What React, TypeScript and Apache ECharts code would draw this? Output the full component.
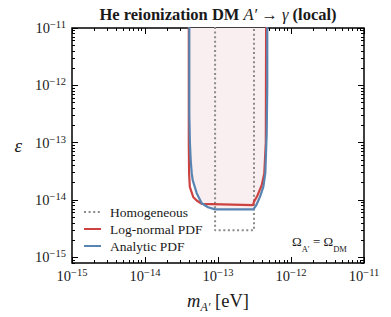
import React, { useEffect, useRef } from 'react';
import * as echarts from 'echarts';

// axis ranges in log10 units
const X_MIN = -15;
const X_MAX = -11;
const Y_MIN = -15.1;
const Y_MAX = -11;
const xDecades = [-15, -14, -13, -12, -11];
const yDecades = [-15, -14, -13, -12, -11];

// curves: log10(m_A' / eV) and log10(epsilon)
const homLogM = [-13.04, -13.04, -12.507, -12.507];
const homLogEps = [-10.5, -14.53, -14.53, -10.5];

const lnLogM = [-13.4, -13.4, -13.396, -13.386, -13.34, -13.292, -13.223, -12.52, -12.507, -12.462, -12.401, -12.366, -12.345, -12.34];
const lnLogEps = [-10.5, -13.0, -13.533, -13.772, -13.947, -14.01, -14.07, -14.09, -14.03, -13.93, -13.742, -13.538, -13.0, -10.5];

const anLogM = [-13.393, -13.393, -13.385, -13.374, -13.36, -13.347, -13.292, -13.223, -13.137, -13.041, -12.516, -12.479, -12.425, -12.379, -12.352, -12.333, -12.325, -12.325];
const anLogEps = [-10.5, -12.5, -13.0, -13.306, -13.533, -13.655, -13.882, -14.057, -14.127, -14.165, -14.165, -14.1, -13.947, -13.772, -13.533, -12.834, -12.0, -10.5];

const seriesNames = ['Homogeneous', 'Log-normal PDF', 'Analytic PDF'];

const FONT = 'Liberation Serif, DejaVu Serif, serif';
const RED = '#cd4240';
const BLUE = '#5884b2';
const GRAY = '#8a8a8a';
const FILL = '#f9eff0';
const INK = '#1a1a1a';

const zip = (a: number[], b: number[]) => a.map((v, i) => [v, b[i]]);

const minorOf = (decades: number[], lo: number, hi: number) => {
  const out: number[] = [];
  decades.forEach((d) => {
    for (let k = 2; k <= 9; k++) {
      const v = d + Math.log10(k);
      if (v > lo && v < hi) out.push(v);
    }
  });
  return out;
};

const powLabel = (v: number) => `{b|10}{s|−${Math.round(-v)}}`;
const powRich = {
  b: { fontFamily: FONT, fontSize: 14.5, lineHeight: 18, color: INK, verticalAlign: 'middle' },
  s: { fontFamily: FONT, fontSize: 10.5, lineHeight: 10, color: INK, verticalAlign: 'top' },
};

export default function App() {
  const ref = useRef<HTMLDivElement>(null);
  useEffect(() => {
    if (!ref.current) return;
    const chart = echarts.init(ref.current, undefined, { renderer: 'svg' });
    const xMinor = minorOf([-15, -14, -13, -12], X_MIN, X_MAX);
    const yMinor = minorOf([-16, -15, -14, -13, -12], Y_MIN, Y_MAX);
    const anPts = zip(anLogM, anLogEps);

    const tickAx = (min: number, max: number, values: number[], len: number, position: string, gridIndex: number, labels?: any) => ({
      type: 'value',
      min,
      max,
      gridIndex,
      position,
      axisLine: { show: false },
      splitLine: { show: false },
      axisTick: { show: true, inside: true, length: len, customValues: values, lineStyle: { color: '#000', width: 1 } },
      axisLabel: labels ? labels : { show: false },
    });

    chart.setOption({
      animation: false,
      backgroundColor: '#fff',
      grid: [
        { left: 72, right: 27, top: 28, bottom: 54, show: true, borderColor: '#000', borderWidth: 1.5, backgroundColor: 'transparent', containLabel: false, outerBoundsMode: 'none' },
        { left: 72, right: 27, top: 28, bottom: 54, show: false, containLabel: false, outerBoundsMode: 'none' },
      ],
      xAxis: [
        {
          ...tickAx(X_MIN, X_MAX, xDecades, 6, 'bottom', 0, {
            show: true,
            customValues: xDecades,
            margin: 4,
            formatter: powLabel,
            rich: powRich,
          }),
          name: '{i|m}{sub|A′}{r| [eV]}',
          nameLocation: 'middle',
          nameGap: 28,
          nameTextStyle: {
            rich: {
              i: { fontFamily: FONT, fontStyle: 'italic', fontSize: 18.5, lineHeight: 22, color: INK, verticalAlign: 'top' },
              sub: { fontFamily: FONT, fontStyle: 'italic', fontSize: 12, lineHeight: 10, color: INK, verticalAlign: 'bottom' },
              r: { fontFamily: FONT, fontSize: 18.5, lineHeight: 22, color: INK, verticalAlign: 'top' },
            },
          },
        },
        tickAx(X_MIN, X_MAX, xDecades, 6, 'top', 0),
        tickAx(X_MIN, X_MAX, xMinor, 3, 'bottom', 1),
        tickAx(X_MIN, X_MAX, xMinor, 3, 'top', 1),
      ],
      yAxis: [
        {
          ...tickAx(Y_MIN, Y_MAX, yDecades, 6, 'left', 0, {
            show: true,
            customValues: yDecades,
            margin: 6,
            formatter: powLabel,
            rich: powRich,
          }),
          name: 'ε',
          nameLocation: 'middle',
          nameGap: 50,
          nameRotate: 0,
          nameTextStyle: { fontFamily: FONT, fontStyle: 'italic', fontSize: 19, color: INK },
        },
        tickAx(Y_MIN, Y_MAX, yDecades, 6, 'right', 0),
        tickAx(Y_MIN, Y_MAX, yMinor, 3, 'left', 1),
        tickAx(Y_MIN, Y_MAX, yMinor, 3, 'right', 1),
      ],
      legend: {
        orient: 'vertical',
        left: 83,
        top: 205,
        padding: 0,
        itemWidth: 17,
        itemHeight: 14,
        itemGap: 3,
        data: seriesNames,
        itemStyle: { opacity: 0, borderWidth: 0 },
        textStyle: { fontFamily: FONT, fontSize: 13.5, color: INK, lineHeight: 14, padding: [0, 0, 0, 4] },
      },
      series: [
        {
          type: 'custom',
          xAxisIndex: 0,
          yAxisIndex: 0,
          clip: true,
          silent: true,
          z: 1,
          data: anPts,
          encode: { x: 0, y: 1 },
          renderItem: (params: any, api: any) => {
            if (params.dataIndex !== 0) return null;
            const pts = anPts.map((p) => api.coord(p));
            return { type: 'polygon', shape: { points: pts }, style: { fill: FILL, stroke: 'none' } };
          },
        },
        {
          name: seriesNames[0],
          type: 'line',
          xAxisIndex: 0,
          yAxisIndex: 0,
          data: zip(homLogM, homLogEps),
          symbol: 'none',
          clip: true,
          z: 3,
          itemStyle: { color: GRAY },
          lineStyle: { color: GRAY, width: 2, type: [2, 2.6] },
        },
        {
          name: seriesNames[1],
          type: 'line',
          xAxisIndex: 0,
          yAxisIndex: 0,
          data: zip(lnLogM, lnLogEps),
          symbol: 'none',
          clip: true,
          z: 4,
          itemStyle: { color: RED },
          lineStyle: { color: RED, width: 2.2 },
        },
        {
          name: seriesNames[2],
          type: 'line',
          xAxisIndex: 0,
          yAxisIndex: 0,
          data: anPts,
          symbol: 'none',
          clip: true,
          z: 5,
          itemStyle: { color: BLUE },
          lineStyle: { color: BLUE, width: 2.2 },
        },
      ],
      graphic: [
        {
          type: 'text',
          x: 218,
          y: 14,
          style: {
            text: '{b|He reionization DM }{i|A′}{b| → }{i|γ}{b| (local)}',
            align: 'center',
            verticalAlign: 'middle',
            rich: {
              b: { fontFamily: FONT, fontWeight: 'bold', fontSize: 16.5, fill: INK },
              i: { fontFamily: FONT, fontStyle: 'italic', fontSize: 16.5, fill: INK },
            },
          },
        },
        {
          type: 'text',
          x: 292,
          y: 244,
          style: {
            text: '{o|Ω}{s|A′}{o| = Ω}{s|DM}',
            align: 'left',
            verticalAlign: 'middle',
            rich: {
              o: { fontFamily: FONT, fontSize: 13, lineHeight: 18, fill: INK, verticalAlign: 'top' },
              s: { fontFamily: FONT, fontSize: 8.5, lineHeight: 9, fill: INK, verticalAlign: 'bottom' },
            },
          },
        },
      ],
    });
    return () => chart.dispose();
  }, []);
  return <div ref={ref} style={{ position: 'fixed', left: 0, top: 0, width: 391, height: 317 }} />;
}
